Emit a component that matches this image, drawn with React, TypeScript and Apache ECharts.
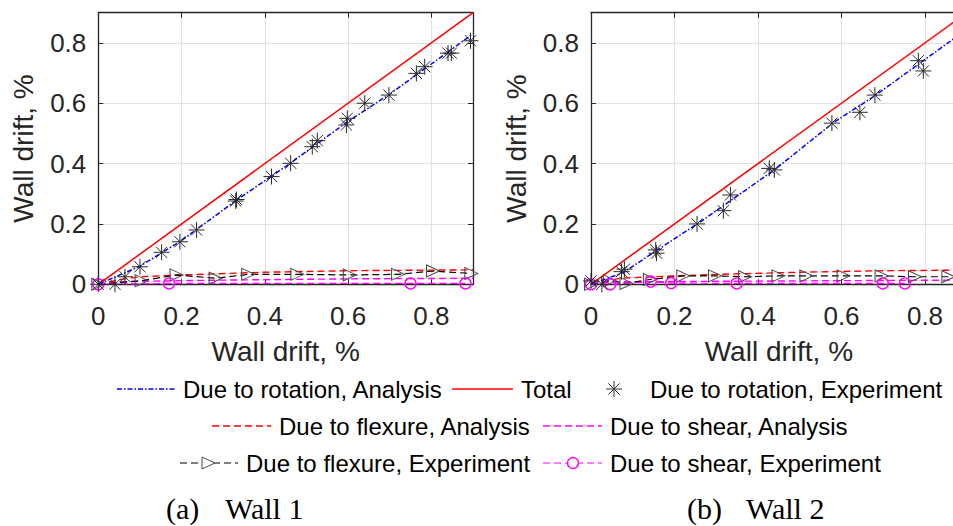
import React, { useEffect, useRef } from "react";
import * as echarts from "echarts";

// ---------- data ----------
const tickLabels = ["0", "0.2", "0.4", "0.6", "0.8"];
const tickStep = 0.2;
const axisMax = 0.9;

// Wall 1
const w1Total = [[0, 0], [0.9, 0.9]];
const w1RotAnalysis = [[0, 0], [0.1, 0.06], [0.2, 0.145], [0.33, 0.277], [0.46, 0.4], [0.6, 0.54], [0.7, 0.63], [0.8, 0.73], [0.9, 0.83]];
const w1FlexAnalysis = [[0, 0], [0.05, 0.015], [0.1, 0.025], [0.2, 0.031], [0.4, 0.04], [0.6, 0.045], [0.9, 0.048]];
const w1ShearAnalysis = [[0, 0], [0.05, 0.008], [0.1, 0.01], [0.3, 0.014], [0.6, 0.018], [0.9, 0.02]];
const w1RotExperiment = [[0.0, 0.0], [0.04, 0.0], [0.064, 0.025], [0.1, 0.058], [0.152, 0.106], [0.196, 0.141], [0.236, 0.18], [0.33, 0.276], [0.332, 0.281], [0.416, 0.357], [0.462, 0.401], [0.514, 0.456], [0.526, 0.476], [0.596, 0.528], [0.598, 0.55], [0.64, 0.6], [0.698, 0.627], [0.764, 0.699], [0.784, 0.721], [0.84, 0.766], [0.848, 0.766], [0.894, 0.807]];
const w1FlexExperiment = [[0, 0], [0.104, 0.012], [0.188, 0.031], [0.282, 0.02], [0.36, 0.033], [0.478, 0.033], [0.604, 0.031], [0.72, 0.033], [0.804, 0.044], [0.896, 0.036]];
const w1ShearExperiment = [[0, 0], [0.17, 0.003], [0.75, 0.003], [0.882, 0.003]];

// Wall 2
const w2Total = [[0, 0], [0.9, 0.9]];
const w2RotAnalysis = [[0, 0], [0.076, 0.038], [0.155, 0.11], [0.26, 0.205], [0.44, 0.38], [0.58, 0.535], [0.68, 0.625], [0.8, 0.745], [0.9, 0.845]];
const w2FlexAnalysis = [[0, 0], [0.07, 0.02], [0.15, 0.025], [0.3, 0.033], [0.5, 0.04], [0.7, 0.045], [0.9, 0.047]];
const w2ShearAnalysis = [[0, 0], [0.05, 0.008], [0.3, 0.01], [0.9, 0.014]];
const w2RotExperiment = [[0, 0.011], [0.026, 0.0], [0.073, 0.042], [0.08, 0.05], [0.155, 0.114], [0.157, 0.103], [0.254, 0.2], [0.317, 0.244], [0.334, 0.296], [0.427, 0.384], [0.439, 0.379], [0.577, 0.534], [0.644, 0.57], [0.68, 0.627], [0.784, 0.741], [0.796, 0.707]];
const w2FlexExperiment = [[0, 0], [0.045, 0.012], [0.085, 0.003], [0.141, 0.016], [0.221, 0.028], [0.297, 0.028], [0.369, 0.025], [0.449, 0.028], [0.516, 0.028], [0.605, 0.028], [0.696, 0.028], [0.776, 0.025], [0.856, 0.025]];
const w2ShearExperiment = [[0, 0], [0.046, 0.0], [0.143, 0.009], [0.192, 0.004], [0.349, 0.003], [0.699, 0.003], [0.752, 0.003]];

const seriesNames = {
  rotA: "Due to rotation, Analysis",
  total: "Total",
  rotE: "Due to rotation, Experiment",
  flexA: "Due to flexure, Analysis",
  shearA: "Due to shear, Analysis",
  flexE: "Due to flexure, Experiment",
  shearE: "Due to shear, Experiment",
};
const axisTitle = "Wall drift, %";
const captions = [["(a)", "Wall 1"], ["(b)", "Wall 2"]];

// ---------- styles ----------
const FONT = '"Liberation Sans", Arial, sans-serif';
const SERIF = '"Liberation Serif", "Times New Roman", serif';
const AX = "#262626";
const GRID = "#e1e1e1";
const BLUE = "#0000ff";
const RED = "#ff0000";
const MAG = "#ff00ff";
const DASH = [7, 4];
const DASHDOT = [5, 2, 1.5, 2];
const STAR = "path://M8,0L8,16M0,8L16,8M2.4,2.4L13.6,13.6M2.4,13.6L13.6,2.4";
const TRI = "path://M0,0L12,6L0,12Z";

const grids = [
  { left: 98.3, top: 12.7, width: 374.7, height: 271.6 },
  { left: 591, top: 12.7, width: 375.75, height: 271.6 },
];

const fmt = (v: number) => {
  const i = Math.round(v / tickStep);
  if (Math.abs(v - i * tickStep) > 1e-6) return "";
  return tickLabels[i] ?? "";
};

function mainX(gi: number) {
  return {
    type: "value", gridIndex: gi, min: 0, max: axisMax, interval: tickStep, position: "bottom",
    axisLine: { show: true, onZero: false, lineStyle: { color: AX, width: 1.3 } },
    axisTick: { show: true, inside: true, length: 5, lineStyle: { color: AX, width: 1 } },
    axisLabel: { show: true, margin: 19, fontSize: 26, fontFamily: FONT, color: AX, formatter: fmt },
    splitLine: { show: true, lineStyle: { color: GRID, width: 1 } },
    name: axisTitle, nameLocation: "middle", nameGap: 53,
    nameTextStyle: { fontSize: 28, fontFamily: FONT, color: AX },
  };
}
function mainY(gi: number) {
  return {
    type: "value", gridIndex: gi, min: 0, max: axisMax, interval: tickStep, position: "left",
    axisLine: { show: true, onZero: false, lineStyle: { color: AX, width: 1.3 } },
    axisTick: { show: true, inside: true, length: 5, lineStyle: { color: AX, width: 1 } },
    axisLabel: { show: true, margin: 12, fontSize: 26, fontFamily: FONT, color: AX, formatter: fmt },
    splitLine: { show: true, lineStyle: { color: GRID, width: 1 } },
    name: axisTitle, nameLocation: "middle", nameGap: 61,
    nameTextStyle: { fontSize: 28, fontFamily: FONT, color: AX },
  };
}
function boxAxis(gi: number, position: string) {
  return {
    type: "value", gridIndex: gi, min: 0, max: axisMax, interval: tickStep, position,
    axisLine: { show: true, onZero: false, lineStyle: { color: AX, width: 1.3 } },
    axisTick: { show: true, inside: true, length: 5, lineStyle: { color: AX, width: 1 } },
    axisLabel: { show: false },
    splitLine: { show: false },
  };
}

function wallSeries(i: number, d: any) {
  const ax = { xAxisIndex: i, yAxisIndex: i };
  return [
    { ...ax, name: seriesNames.flexA, type: "line", data: d.flexA, symbol: "none", z: 2,
      lineStyle: { color: RED, width: 1.4, type: DASH } },
    { ...ax, name: seriesNames.shearA, type: "line", data: d.shearA, symbol: "none", z: 2,
      lineStyle: { color: MAG, width: 1.4, type: DASH } },
    { ...ax, name: seriesNames.flexE, type: "line", data: d.flexE, symbol: TRI, symbolSize: [13, 12],
      showSymbol: true, clip: false, z: 3,
      itemStyle: { color: "transparent", borderColor: "#4a4a4a", borderWidth: 1 },
      lineStyle: { color: "#000", width: 1.2, type: DASH } },
    { ...ax, name: seriesNames.shearE, type: "line", data: d.shearE, symbol: "circle", symbolSize: 11,
      showSymbol: true, clip: false, z: 3,
      itemStyle: { color: "transparent", borderColor: MAG, borderWidth: 1.4 },
      lineStyle: { color: MAG, width: 1.2, type: DASH } },
    { ...ax, name: seriesNames.total, type: "line", data: d.total, symbol: "none", z: 4,
      lineStyle: { color: RED, width: 1.5, type: "solid" } },
    { ...ax, name: seriesNames.rotA, type: "line", data: d.rotA, symbol: "none", z: 4,
      lineStyle: { color: BLUE, width: 1.5, type: DASHDOT } },
    { ...ax, name: seriesNames.rotE, type: "scatter", data: d.rotE, symbol: STAR, symbolSize: 16,
      clip: false, z: 5,
      itemStyle: { color: "transparent", borderColor: "#2a2a2a", borderWidth: 1, opacity: 1 } },
  ];
}

// ---------- legend (graphic) ----------
const LFONT = 24;
function hLine(x1: number, x2: number, y: number, color: string, dash: any, w: number) {
  return { type: "line", shape: { x1, y1: y, x2, y2: y }, style: { stroke: color, lineWidth: w, lineDash: dash }, z: 10 };
}
function lText(x: number, y: number, text: string) {
  return { type: "text", x, y, z: 10, style: { text, fill: "#000", fontSize: LFONT, fontFamily: FONT, align: "left", verticalAlign: "middle" } };
}
function starGlyph(cx: number, cy: number, r: number) {
  const d = r * 0.7;
  const mk = (x1: number, y1: number, x2: number, y2: number) =>
    ({ type: "line", shape: { x1, y1, x2, y2 }, style: { stroke: "#333", lineWidth: 1 }, z: 10 });
  return [mk(cx, cy - r, cx, cy + r), mk(cx - r, cy, cx + r, cy), mk(cx - d, cy - d, cx + d, cy + d), mk(cx - d, cy + d, cx + d, cy - d)];
}

function buildLegend() {
  const r1 = 389, r2 = 426, r3 = 463;
  return [
    hLine(117, 176, r1, BLUE, DASHDOT, 1.5),
    lText(183, r1, seriesNames.rotA),
    hLine(452, 513, r1, RED, null, 1.5),
    lText(521, r1, seriesNames.total),
    ...starGlyph(614, r1, 8),
    lText(650, r1, seriesNames.rotE),

    hLine(212, 271, r2, RED, DASH, 1.4),
    lText(279, r2, seriesNames.flexA),
    hLine(543, 602, r2, MAG, DASH, 1.4),
    lText(610, r2, seriesNames.shearA),

    hLine(180, 238, r3, "#000", DASH, 1.2),
    { type: "polygon", shape: { points: [[202, r3 - 6], [215, r3], [202, r3 + 6]] }, style: { fill: "#fff", stroke: "#4a4a4a", lineWidth: 1 }, z: 11 },
    lText(246, r3, seriesNames.flexE),
    hLine(543, 602, r3, MAG, DASH, 1.2),
    { type: "circle", shape: { cx: 573, cy: r3, r: 5.5 }, style: { fill: "#fff", stroke: MAG, lineWidth: 1.4 }, z: 11 },
    lText(610, r3, seriesNames.shearE),

    { type: "text", x: 166, y: 508, z: 10, style: { text: captions[0][0], fill: "#000", fontSize: 30, fontFamily: SERIF, verticalAlign: "middle" } },
    { type: "text", x: 225, y: 508, z: 10, style: { text: captions[0][1], fill: "#000", fontSize: 30, fontFamily: SERIF, verticalAlign: "middle" } },
    { type: "text", x: 687, y: 508, z: 10, style: { text: captions[1][0], fill: "#000", fontSize: 30, fontFamily: SERIF, verticalAlign: "middle" } },
    { type: "text", x: 746, y: 508, z: 10, style: { text: captions[1][1], fill: "#000", fontSize: 30, fontFamily: SERIF, verticalAlign: "middle" } },
  ];
}

export default function App() {
  const ref = useRef<HTMLDivElement>(null);
  useEffect(() => {
    if (!ref.current) return;
    const chart = echarts.init(ref.current, undefined, { renderer: "svg" });
    const option: any = {
      animation: false,
      backgroundColor: "#ffffff",
      grid: grids,
      xAxis: [mainX(0), mainX(1), boxAxis(0, "top"), boxAxis(1, "top")],
      yAxis: [mainY(0), mainY(1), boxAxis(0, "right"), boxAxis(1, "right")],
      series: [
        ...wallSeries(0, { total: w1Total, rotA: w1RotAnalysis, flexA: w1FlexAnalysis, shearA: w1ShearAnalysis, rotE: w1RotExperiment, flexE: w1FlexExperiment, shearE: w1ShearExperiment }),
        ...wallSeries(1, { total: w2Total, rotA: w2RotAnalysis, flexA: w2FlexAnalysis, shearA: w2ShearAnalysis, rotE: w2RotExperiment, flexE: w2FlexExperiment, shearE: w2ShearExperiment }),
      ],
      graphic: buildLegend(),
    };
    chart.setOption(option);
    return () => chart.dispose();
  }, []);
  return (
    <div style={{ position: "absolute", left: 0, top: 0, width: 953, height: 526, overflow: "hidden", background: "#fff" }}>
      <div ref={ref} style={{ position: "absolute", left: 0, top: 0, width: 990, height: 526 }} />
    </div>
  );
}
